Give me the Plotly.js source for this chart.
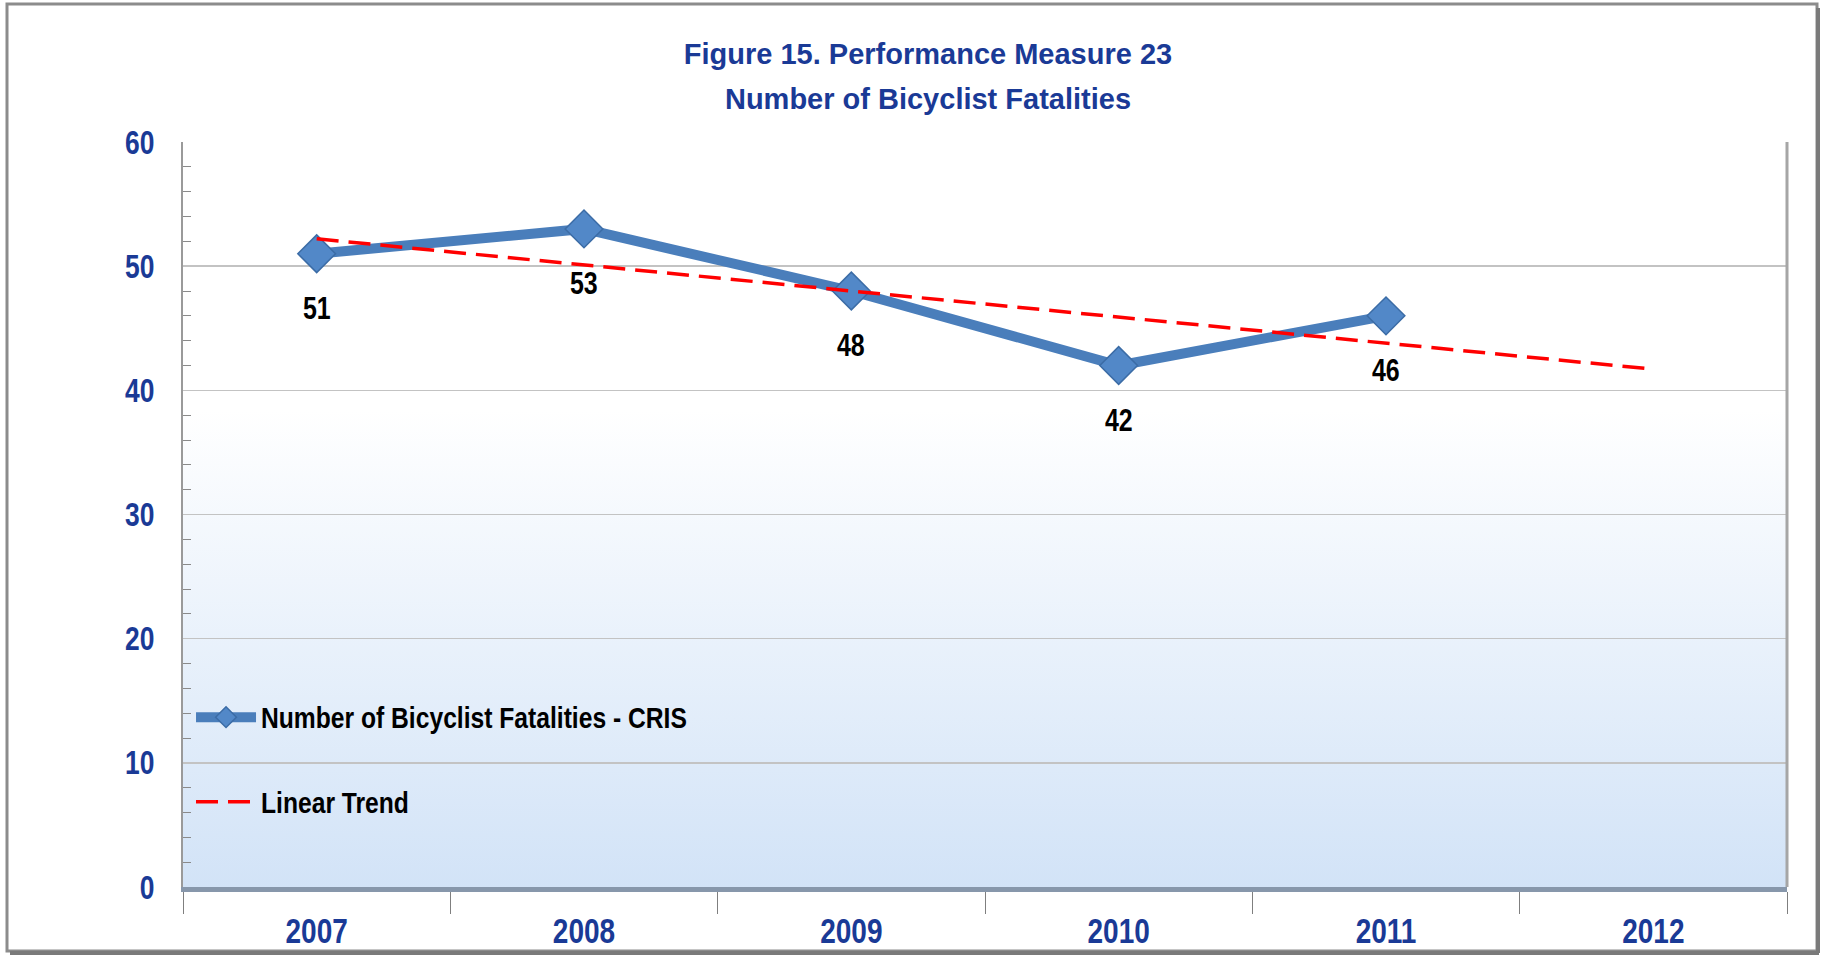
<!DOCTYPE html>
<html>
<head>
<meta charset="utf-8">
<script src="https://cdn.plot.ly/plotly-3.0.1.min.js"></script>
<style>
html,body{margin:0;padding:0;background:#fff;}
#chart{width:1825px;height:957px;}
</style>
</head>
<body>
<div id="chart"></div>
<script>
// Data
var years = ["2007", "2008", "2009", "2010", "2011", "2012"];
var fatalityYears = ["2007", "2008", "2009", "2010", "2011"];
var fatalities = [51, 53, 48, 42, 46];
var trendValues = [52.2, 50.1, 48.0, 45.9, 43.8, 41.7];
var seriesName = "Number of Bicyclist Fatalities - CRIS";
var trendName = "Linear Trend";
var titleLines = ["Figure 15. Performance Measure 23", "Number of Bicyclist Fatalities"];

var FONT = "'Liberation Sans', Arial, sans-serif";
var BLUE = "#1a3a96";

var gradSvg = '<svg xmlns="http://www.w3.org/2000/svg" width="100" height="100" preserveAspectRatio="none">' +
  '<defs><linearGradient id="g" x1="0" y1="0" x2="0" y2="1">' +
  '<stop offset="0" stop-color="#ffffff"/>' +
  '<stop offset="0.36" stop-color="#ffffff"/>' +
  '<stop offset="1" stop-color="#d2e3f7"/>' +
  '</linearGradient></defs><rect width="100" height="100" fill="url(#g)"/></svg>';
var gradUri = 'data:image/svg+xml;charset=utf-8,' + encodeURIComponent(gradSvg);

var traces = [
  {
    x: fatalityYears, y: fatalities, type: "scatter", mode: "lines+markers",
    name: seriesName, legendgroup: "a",
    line: {color: "#4a7ebb", width: 10},
    marker: {symbol: "diamond", size: 29, color: "#5288c8", line: {color: "#3b6ca6", width: 1.5}},
    hoverinfo: "x+y"
  },
  {
    x: years, y: trendValues, type: "scatter", mode: "lines",
    name: trendName, legendgroup: "b",
    line: {color: "#ff0000", width: 3.5, dash: "22px,10px"},
    hoverinfo: "skip"
  }
];

var annotations = fatalities.map(function (v, i) {
  return {
    x: years.indexOf(fatalityYears[i]), y: v, xref: "x", yref: "y",
    text: String(v), showarrow: false, yshift: -54,
    xanchor: "center", yanchor: "middle",
    font: {family: FONT, size: 32, color: "#000000", weight: "bold"}
  };
});

var layout = {
  width: 1825, height: 957,
  margin: {l: 183, r: 38, t: 142, b: 70},
  paper_bgcolor: "#ffffff",
  plot_bgcolor: "rgba(0,0,0,0)",
  font: {family: FONT},
  title: {
    text: titleLines.join("<br>"),
    font: {family: FONT, size: 29, color: BLUE, weight: "bold"},
    xref: "container", x: 928 / 1825, xanchor: "center",
    yref: "container", y: 1 - 64 / 957, yanchor: "top"
  },
  showlegend: true,
  legend: {
    x: 0.005, y: 0.262, xanchor: "left", yanchor: "top",
    bgcolor: "rgba(0,0,0,0)", borderwidth: 0,
    traceorder: "grouped", tracegroupgap: 44,
    itemwidth: 60,
    font: {family: FONT, size: 29, color: "#000000", weight: "bold"}
  },
  xaxis: {
    type: "category", categoryorder: "array", categoryarray: years,
    range: [-0.5, 5.5],
    showgrid: false, zeroline: false,
    showline: true, linecolor: "#8797ab", linewidth: 5,
    ticks: "outside", tickson: "boundaries", ticklen: 22, tickwidth: 1, tickcolor: "#7f7f7f",
    ticklabelstandoff: 9,
    tickfont: {family: FONT, size: 35, color: BLUE, weight: "bold"},
    fixedrange: true
  },
  yaxis: {
    range: [0, 60], dtick: 10, tick0: 0,
    showgrid: true, gridcolor: "#c3c3c3", gridwidth: 1.5,
    zeroline: false,
    showline: true, linecolor: "#9a9a9a", linewidth: 2,
    ticks: "", ticklabelstandoff: 20,
    minor: {dtick: 2, ticks: "inside", ticklen: 8, tickcolor: "#8a8a8a", tickwidth: 1, showgrid: false},
    tickfont: {family: FONT, size: 33, color: BLUE, weight: "bold"},
    fixedrange: true
  },
  images: [{
    source: gradUri, xref: "paper", yref: "paper",
    x: 0, y: 1, sizex: 1, sizey: 1, sizing: "stretch",
    xanchor: "left", yanchor: "top", layer: "below"
  }],
  shapes: [
    {type: "line", xref: "paper", yref: "paper", x0: 1, x1: 1, y0: 0, y1: 1,
     line: {color: "#a6a6a6", width: 3}},
    {type: "rect", xref: "paper", yref: "paper",
     x0: (7 - 183) / 1604, x1: (1817 - 183) / 1604,
     y0: (887 - 951) / 745, y1: (887 - 4) / 745,
     line: {color: "#8c8c8c", width: 3}},
    {type: "line", xref: "paper", yref: "paper",
     x0: (1818 - 183) / 1604, x1: (1818 - 183) / 1604,
     y0: (887 - 953) / 745, y1: (887 - 8) / 745,
     line: {color: "#7a7a7a", width: 4}},
    {type: "line", xref: "paper", yref: "paper",
     x0: (10 - 183) / 1604, x1: (1819 - 183) / 1604,
     y0: (887 - 953) / 745, y1: (887 - 953) / 745,
     line: {color: "#7a7a7a", width: 4}}
  ],
  annotations: annotations
};

// Horizontally condense text (the reference uses a narrow typeface)
function narrow(nodes, s) {
  Array.prototype.forEach.call(nodes, function (el) {
    var b;
    try { b = el.getBBox(); } catch (e) { return; }
    if (!b || !b.width) return;
    var anchor = el.getAttribute("text-anchor") || window.getComputedStyle(el).textAnchor || "start";
    var px = anchor === "end" ? b.x + b.width : (anchor === "middle" ? b.x + b.width / 2 : b.x);
    var t = el.getAttribute("transform") || "";
    el.setAttribute("transform", t + " translate(" + px + ",0) scale(" + s + ",1) translate(" + (-px) + ",0)");
  });
}

Plotly.newPlot("chart", traces, layout, {displayModeBar: false, staticPlot: true}).then(function (gd) {
  narrow(gd.querySelectorAll(".ytick text"), 0.8);
  narrow(gd.querySelectorAll(".xtick text"), 0.8);
  narrow(gd.querySelectorAll(".annotation-text"), 0.78);
  narrow(gd.querySelectorAll(".legendtext"), 0.85);
  // wider spacing between the two title lines, as in the reference
  var lines = gd.querySelectorAll(".gtitle tspan.line");
  if (lines.length > 1) lines[1].setAttribute("dy", "1.55em");
});
</script>
</body>
</html>
